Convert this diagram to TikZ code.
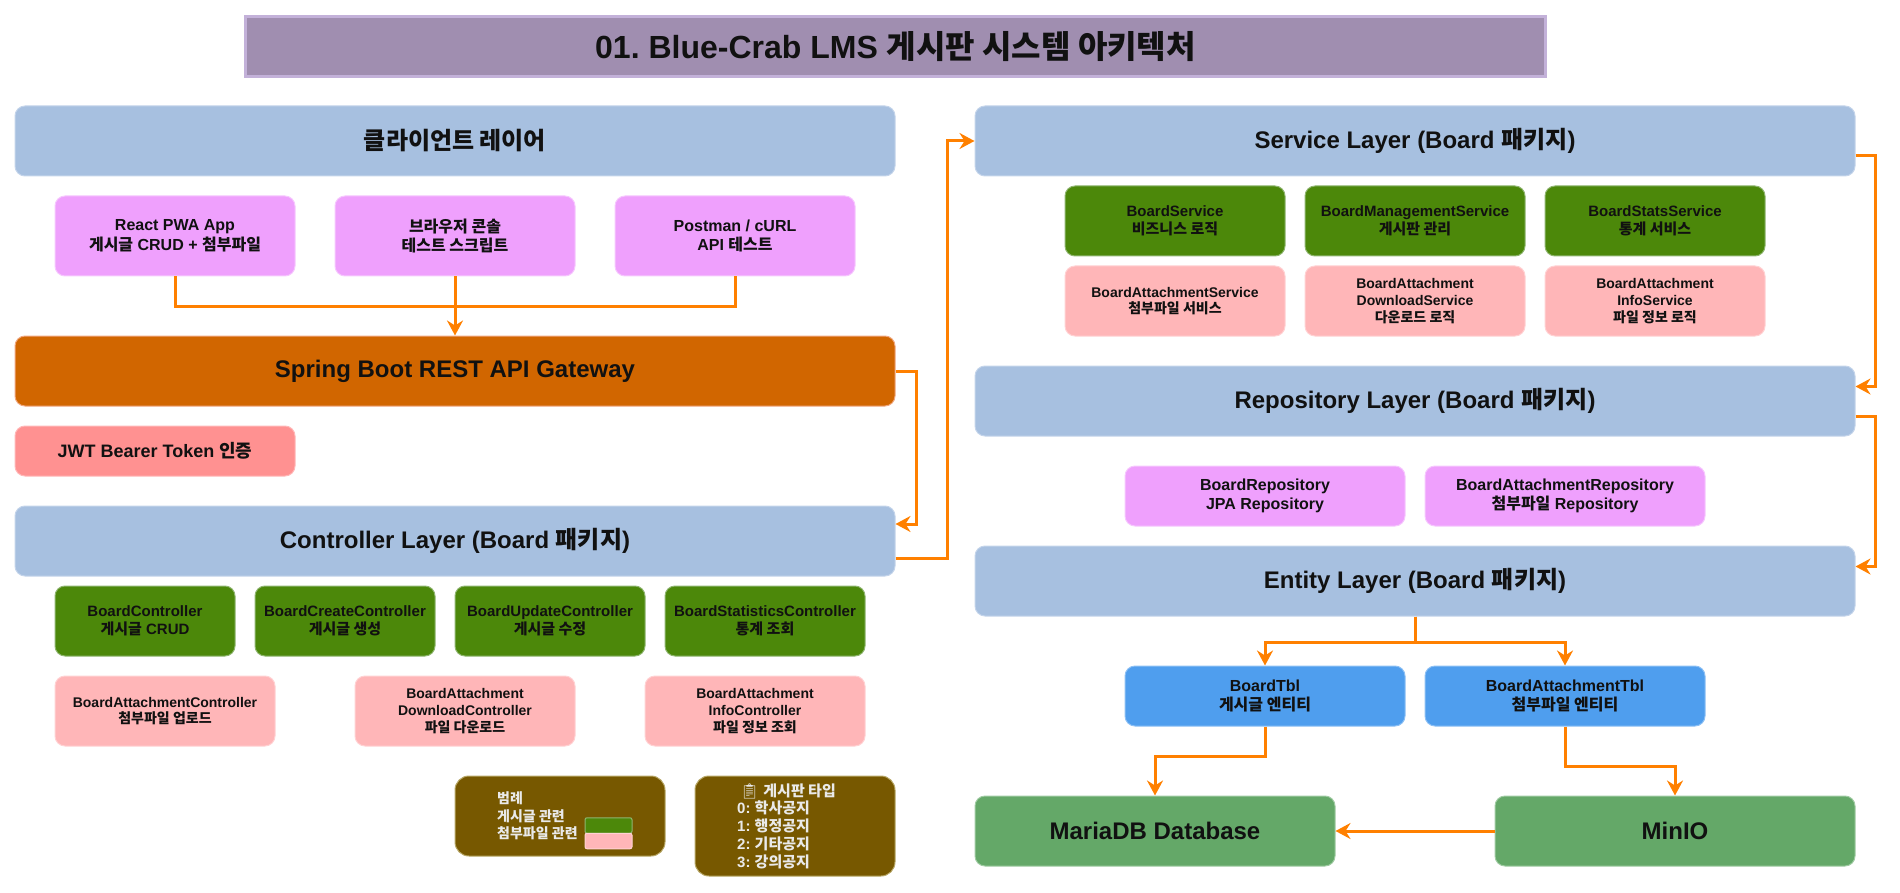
\documentclass[tikz,border=0pt]{standalone}
\usepackage{fontspec}
\setmainfont{Liberation Sans}
\newfontfamily\krfont{Noto Sans CJK KR}
\newfontfamily\emojifont{Noto Emoji}
\newcommand{\kr}[1]{{\krfont #1}}
\usetikzlibrary{shapes,positioning,calc}
\usetikzlibrary{arrows.meta}
\definecolor{layerfill}{HTML}{A7C0E0}
\definecolor{layerline}{HTML}{C4D4EA}
\definecolor{clientfill}{HTML}{EFA0FD}
\definecolor{clientline}{HTML}{F6C8FE}
\definecolor{gatefill}{HTML}{D16600}
\definecolor{gateline}{HTML}{F0A880}
\definecolor{jwtfill}{HTML}{FF9191}
\definecolor{jwtline}{HTML}{FFB8B8}
\definecolor{boardfill}{HTML}{4C880A}
\definecolor{boardline}{HTML}{8FB570}
\definecolor{attachfill}{HTML}{FFB6B8}
\definecolor{attachline}{HTML}{FFD2D3}
\definecolor{tblfill}{HTML}{4F9EEE}
\definecolor{tblline}{HTML}{8DC0F4}
\definecolor{dbfill}{HTML}{64A868}
\definecolor{dbline}{HTML}{A0CBA3}
\definecolor{notefill}{HTML}{775800}
\definecolor{noteline}{HTML}{B8A868}
\definecolor{notetext}{HTML}{EAEAEA}
\definecolor{titlefill}{HTML}{A08EB0}
\definecolor{titleline}{HTML}{C3B1D9}
\definecolor{flow}{HTML}{FF8000}
\definecolor{ink}{HTML}{111111}
\tikzstyle{box} = [rectangle, rounded corners=10pt, inner sep=0pt, align=center, text=ink, line width=1pt]
\tikzstyle{titlebox} = [rectangle, inner sep=0pt, minimum width=1300pt, minimum height=60pt, fill=titlefill, draw=titleline, line width=3pt, text=ink, font=\bfseries\fontsize{32}{38}\selectfont]
\tikzstyle{layer} = [box, minimum width=880pt, minimum height=70pt, fill=layerfill, draw=layerline, font=\bfseries\fontsize{24}{29}\selectfont]
\tikzstyle{client} = [box, minimum width=240pt, minimum height=80pt, fill=clientfill, draw=clientline, font=\bfseries\fontsize{16}{19.5}\selectfont]
\tikzstyle{gate} = [layer, fill=gatefill, draw=gateline]
\tikzstyle{jwt} = [box, minimum width=280pt, minimum height=50pt, fill=jwtfill, draw=jwtline, font=\bfseries\fontsize{18}{22}\selectfont]
\tikzstyle{board} = [box, minimum height=70pt, fill=boardfill, draw=boardline, font=\bfseries\fontsize{15}{17.7}\selectfont]
\tikzstyle{attach} = [box, minimum height=70pt, fill=attachfill, draw=attachline, font=\bfseries\fontsize{14}{16.7}\selectfont]
\tikzstyle{repo} = [box, minimum width=280pt, minimum height=60pt, fill=clientfill, draw=clientline, font=\bfseries\fontsize{16}{19.5}\selectfont]
\tikzstyle{tbl} = [repo, fill=tblfill, draw=tblline]
\tikzstyle{store} = [box, minimum width=360pt, minimum height=70pt, fill=dbfill, draw=dbline, font=\bfseries\fontsize{24}{28}\selectfont]
\tikzstyle{note} = [box, rounded corners=14pt, fill=notefill, draw=noteline]
\tikzstyle{notetxt} = [inner sep=0pt, anchor=west, align=left, text=notetext, font=\bfseries\fontsize{15}{17.7}\selectfont]
\tikzstyle{swatch} = [box, rounded corners=2pt, minimum width=47pt, minimum height=15.5pt]
\tikzstyle{arrow} = [line width=3pt, draw=flow, -{Stealth[length=15pt,width=16pt,inset=5pt]}]
\tikzstyle{wire} = [line width=3pt, draw=flow]

\begin{document}
\frenchspacing
\begin{tikzpicture}[x=1pt,y=-1pt]
	\useasboundingbox (0,0) rectangle (1900,893);
	\node (title) at (895.5,46.5) [titlebox] {01. Blue-Crab LMS \kr{게시판 시스템 아키텍처}};
	% left column
	\node (client) at (455,141) [layer] {\kr{클라이언트 레이어}};
	\node (react) at (175,236) [client] {React PWA App\\\kr{게시글} CRUD + \kr{첨부파일}};
	\node (console) at (455,236) [client] {\kr{브라우저 콘솔}\\\kr{테스트 스크립트}};
	\node (postman) at (735,236) [client] {Postman / cURL\\API \kr{테스트}};
	\node (gateway) at (455,371) [gate] {Spring Boot REST API Gateway};
	\node (jwt) at (155,451) [jwt] {JWT Bearer Token \kr{인증}};
	\node (controller) at (455,541) [layer] {Controller Layer (Board \kr{패키지})};
	\node (bctl) at (145,621) [board, minimum width=180pt] {BoardController\\\kr{게시글} CRUD};
	\node (cctl) at (345,621) [board, minimum width=180pt] {BoardCreateController\\\kr{게시글 생성}};
	\node (uctl) at (550,621) [board, minimum width=190pt] {BoardUpdateController\\\kr{게시글 수정}};
	\node (sctl) at (765,621) [board, minimum width=200pt] {BoardStatisticsController\\\kr{통계 조회}};
	\node (actl) at (165,711) [attach, minimum width=220pt] {BoardAttachmentController\\\kr{첨부파일 업로드}};
	\node (dctl) at (465,711) [attach, minimum width=220pt] {BoardAttachment\\DownloadController\\\kr{파일 다운로드}};
	\node (ictl) at (755,711) [attach, minimum width=220pt] {BoardAttachment\\InfoController\\\kr{파일 정보 조회}};
	% legend and board types
	\node (legend) at (560,816) [note, minimum width=210pt, minimum height=80pt] {};
	\node (legendtxt) at (497,816) [notetxt, font=\bfseries\fontsize{14}{17.7}\selectfont] {\kr{범례}\\\kr{게시글 관련}\\\kr{첨부파일 관련}};
	\node (swboard) at (608.5,825.5) [swatch, fill=boardfill, draw=boardline] {};
	\node (swattach) at (608.5,841) [swatch, fill=attachfill, draw=attachline] {};
	\node (types) at (795,826) [note, minimum width=200pt, minimum height=100pt] {};
	\node (typestxt) at (737,826) [notetxt] {\hspace{3pt}{\emojifont\symbol{"1F4CB}} \kr{게시판 타입}\\0: \kr{학사공지}\\1: \kr{행정공지}\\2: \kr{기타공지}\\3: \kr{강의공지}};
	% right column
	\node (service) at (1415,141) [layer] {Service Layer (Board \kr{패키지})};
	\node (bsvc) at (1175,221) [board, minimum width=220pt] {BoardService\\\kr{비즈니스 로직}};
	\node (msvc) at (1415,221) [board, minimum width=220pt] {BoardManagementService\\\kr{게시판 관리}};
	\node (ssvc) at (1655,221) [board, minimum width=220pt] {BoardStatsService\\\kr{통계 서비스}};
	\node (asvc) at (1175,301) [attach, minimum width=220pt] {BoardAttachmentService\\\kr{첨부파일 서비스}};
	\node (dsvc) at (1415,301) [attach, minimum width=220pt] {BoardAttachment\\DownloadService\\\kr{다운로드 로직}};
	\node (isvc) at (1655,301) [attach, minimum width=220pt] {BoardAttachment\\InfoService\\\kr{파일 정보 로직}};
	\node (repository) at (1415,401) [layer] {Repository Layer (Board \kr{패키지})};
	\node (brepo) at (1265,496) [repo] {BoardRepository\\JPA Repository};
	\node (arepo) at (1565,496) [repo] {BoardAttachmentRepository\\\kr{첨부파일} Repository};
	\node (entity) at (1415,581) [layer] {Entity Layer (Board \kr{패키지})};
	\node (btbl) at (1265,696) [tbl] {BoardTbl\\\kr{게시글 엔티티}};
	\node (atbl) at (1565,696) [tbl] {BoardAttachmentTbl\\\kr{첨부파일 엔티티}};
	\node (mariadb) at (1155,831) [store] {MariaDB Database};
	\node (minio) at (1675,831) [store] {MinIO};
	% connectors
	\draw[wire] (react.south) -- ++(0,30) -| (console.south |- 0,306);
	\draw[wire] (postman.south) -- ++(0,30) -| (console.south |- 0,306);
	\draw[arrow] (console.south) -- (gateway.north);
	\draw[arrow] (gateway.east) -- ++(21,0) |- ([yshift=17pt]controller.east);
	\draw[arrow] ([yshift=-17pt]controller.east) -- ++(51.5,0) |- (service.west);
	\draw[arrow] ([yshift=-15pt]service.east) -- ++(20,0) |- ([yshift=14.5pt]repository.east);
	\draw[arrow] ([yshift=-15pt]repository.east) -- ++(20,0) |- ([yshift=14.5pt]entity.east);
	\draw[arrow] (entity.south) -- ++(0,25.5) -| (btbl.north);
	\draw[arrow] (entity.south) -- ++(0,25.5) -| (atbl.north);
	\draw[arrow] (btbl.south) -- ++(0,30) -| (mariadb.north);
	\draw[arrow] (atbl.south) -- ++(0,40) -| (minio.north);
	\draw[arrow] (minio.west) -- (mariadb.east);
\end{tikzpicture}
\end{document}
